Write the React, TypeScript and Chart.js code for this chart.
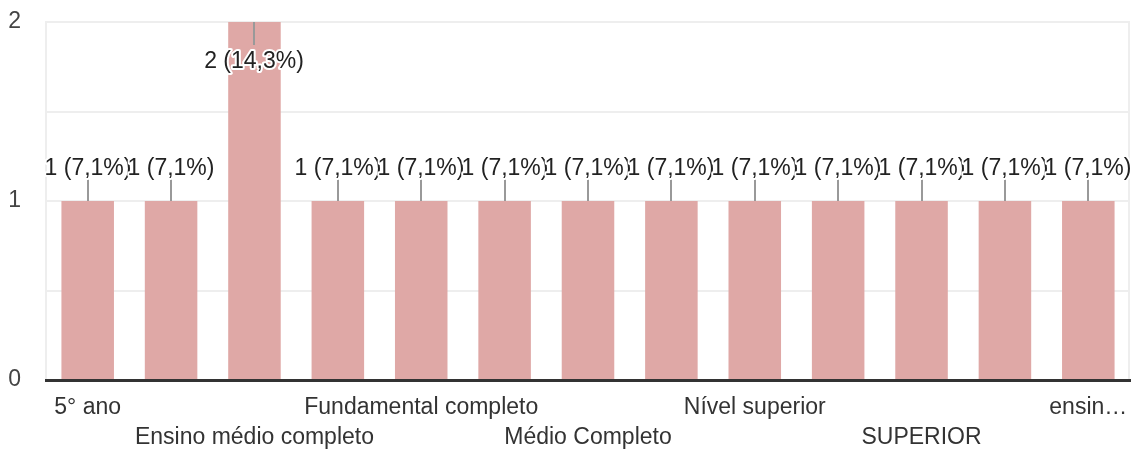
import React, { useEffect, useRef } from 'react';
import { Chart, registerables } from 'chart.js';

Chart.register(...registerables);

// ---- data ----
const categories = [
  '5° ano',
  'Ensino fundamental',
  'Ensino médio completo',
  'Ensino superior',
  'Fundamental completo',
  'Fundamental incompleto',
  'Médio Completo',
  'Médio completo',
  'Nível superior',
  'Pós-graduação',
  'SUPERIOR',
  'Superior completo',
  'ensino médio',
];
const counts = [1, 1, 2, 1, 1, 1, 1, 1, 1, 1, 1, 1, 1];
const xTickLabels = [
  '5° ano', '', 'Ensino médio completo', '', 'Fundamental completo', '',
  'Médio Completo', '', 'Nível superior', '', 'SUPERIOR', '', 'ensin…',
];
const yTickLabels = [0, 1, 2];
const total = counts.reduce((a, b) => a + b, 0);

const FONT_FAMILY = '"Liberation Sans", Arial, Helvetica, sans-serif';
const FONT_SIZE = 23;

const annotationPlugin = {
  id: 'barAnnotations',
  afterDatasetsDraw(chart: any) {
    const ctx = chart.ctx as CanvasRenderingContext2D;
    const meta = chart.getDatasetMeta(0);
    const top = chart.chartArea.top;
    const stem = 22;
    const items: { x: number; ty: number; text: string }[] = [];
    ctx.save();
    ctx.strokeStyle = '#999999';
    ctx.lineWidth = 2;
    meta.data.forEach((bar: any, i: number) => {
      const v = counts[i];
      const pct = ((v / total) * 100).toFixed(1).replace('.', ',');
      const text = `${v} (${pct}%)`;
      const x = Math.round(bar.x);
      const y = bar.y;
      const up = y - stem - 24 >= top;
      const y2 = up ? y - stem : y + stem + 1;
      ctx.beginPath();
      ctx.moveTo(x, y);
      ctx.lineTo(x, y2);
      ctx.stroke();
      items.push({ x, ty: up ? y2 - 10 : y2 + 17, text });
    });
    ctx.font = `${FONT_SIZE}px ${FONT_FAMILY}`;
    ctx.textAlign = 'center';
    ctx.textBaseline = 'middle';
    ctx.lineJoin = 'round';
    items.forEach(({ x, ty, text }) => {
      ctx.lineWidth = 4;
      ctx.strokeStyle = '#ffffff';
      ctx.strokeText(text, x, ty);
      ctx.fillStyle = '#222222';
      ctx.fillText(text, x, ty);
    });
    ctx.restore();
  },
};

const framePlugin = {
  id: 'rightFrame',
  beforeDatasetsDraw(chart: any) {
    const { ctx, chartArea } = chart;
    ctx.save();
    ctx.strokeStyle = '#eeeeee';
    ctx.lineWidth = 2;
    ctx.beginPath();
    ctx.moveTo(chartArea.right - 1, chartArea.top);
    ctx.lineTo(chartArea.right - 1, chartArea.bottom);
    ctx.stroke();
    ctx.restore();
  },
};

export default function App() {
  const canvasRef = useRef<HTMLCanvasElement | null>(null);

  useEffect(() => {
    if (!canvasRef.current) return;
    const chart = new Chart(canvasRef.current, {
      type: 'bar',
      data: {
        labels: categories,
        datasets: [
          {
            data: counts,
            backgroundColor: '#dfa8a6',
            borderWidth: 0,
            categoryPercentage: 0.63,
            barPercentage: 1,
          },
        ],
      },
      options: {
        animation: false,
        responsive: false,
        devicePixelRatio: 1,
        layout: { padding: { top: 22, right: 6, left: 0, bottom: 0 } },
        plugins: {
          legend: { display: false },
          tooltip: { enabled: false },
        },
        scales: {
          x: {
            offset: true,
            grid: { display: false, drawTicks: false },
            border: { display: true, color: '#333333', width: 3, z: 1 },
            ticks: {
              autoSkip: false,
              maxRotation: 0,
              minRotation: 0,
              padding: 13,
              color: '#333333',
              font: { family: FONT_FAMILY, size: FONT_SIZE, lineHeight: '30px' },
              callback: (_v: any, index: number) => {
                const t = xTickLabels[index];
                if (!t) return '';
                return index % 4 === 0 ? t : ['', t];
              },
            },
            afterFit: (s: any) => {
              s.height = 70;
              s.paddingLeft = 0;
              s.paddingRight = 0;
            },
          },
          y: {
            min: 0,
            max: 2,
            grid: { color: '#eeeeee', lineWidth: 2, drawTicks: false },
            border: { display: true, color: '#eeeeee', width: 2 },
            ticks: {
              stepSize: 0.5,
              padding: 25,
              color: '#444444',
              font: { family: FONT_FAMILY, size: FONT_SIZE },
              callback: (v: any) => (yTickLabels.includes(v) ? String(v) : ''),
            },
            afterFit: (s: any) => {
              s.width = 46;
              s.paddingTop = 0;
              s.paddingBottom = 0;
            },
          },
        },
      },
      plugins: [framePlugin, annotationPlugin],
    });
    return () => chart.destroy();
  }, []);

  return (
    <div
      style={{
        position: 'fixed',
        left: 0,
        top: 0,
        width: 1136,
        height: 450,
        background: '#ffffff',
      }}
    >
      <canvas ref={canvasRef} width={1136} height={450} />
    </div>
  );
}
